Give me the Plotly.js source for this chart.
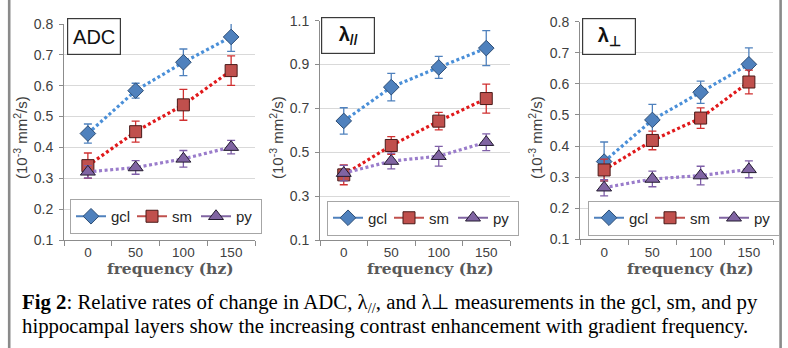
<!DOCTYPE html>
<html><head><meta charset="utf-8">
<script src="https://cdn.plot.ly/plotly-3.0.1.min.js"></script>
<style>html,body{margin:0;padding:0;background:#fff}#chart{width:788px;height:348px}</style>
</head><body><div id="chart"></div>
<script>
// ---- data ----
const frequencies = ['0', '50', '100', '150'];
const seriesNames = ['gcl', 'sm', 'py'];

const adcGcl = [0.445, 0.584, 0.676, 0.758];
const adcGclErr = [0.031, 0.024, 0.043, 0.047];
const adcSm = [0.341, 0.451, 0.538, 0.649];
const adcSmErr = [0.041, 0.034, 0.050, 0.048];
const adcPy = [0.321, 0.335, 0.363, 0.401];
const adcPyErr = [0.020, 0.022, 0.027, 0.022];

const parGcl = [0.643, 0.797, 0.887, 0.975];
const parGclErr = [0.060, 0.063, 0.050, 0.080];
const parSm = [0.397, 0.531, 0.642, 0.745];
const parSmErr = [0.045, 0.040, 0.040, 0.066];
const parPy = [0.405, 0.460, 0.482, 0.546];
const parPyErr = [0.035, 0.036, 0.045, 0.038];

const perpGcl = [0.350, 0.484, 0.573, 0.663];
const perpGclErr = [0.063, 0.050, 0.036, 0.053];
const perpSm = [0.323, 0.418, 0.490, 0.606];
const perpSmErr = [0.035, 0.030, 0.033, 0.038];
const perpPy = [0.266, 0.294, 0.305, 0.325];
const perpPyErr = [0.026, 0.025, 0.030, 0.027];

const panelLabels = ['ADC', '<b>λ<sub>//</sub></b>', '<b>λ<sub>⊥</sub></b>'];
const yTickValues = [[0.1,0.2,0.3,0.4,0.5,0.6,0.7,0.8],[0.1,0.3,0.5,0.7,0.9,1.1],[0.1,0.2,0.3,0.4,0.5,0.6,0.7,0.8]];
const yTitle = '(10<sup>-3</sup> mm<sup>2</sup>/s)';
const xTitle = 'frequency (hz)';

// ---- styling ----
const W = 788, H = 348;
const panels = [
  {vals:[adcGcl,adcSm,adcPy], errs:[adcGclErr,adcSmErr,adcPyErr], x0:64, x1:255, yTop:24, yBot:240, range:[0.1,0.8], lb:[70,216.5], boxX:94, boxY:36.5, ytX:20, xtX:170},
  {vals:[parGcl,parSm,parPy], errs:[parGclErr,parSmErr,parPyErr], x0:320, x1:510, yTop:20.7, yBot:240, range:[0.1,1.1], lb:[327,218], boxX:347.5, boxY:35.5, ytX:276, xtX:430},
  {vals:[perpGcl,perpSm,perpPy], errs:[perpGclErr,perpSmErr,perpPyErr], x0:580, x1:773, yTop:21.7, yBot:239.3, range:[0.1,0.8], lb:[588,218], boxX:609, boxY:36.5, ytX:535, xtX:690}
];
const styles = [
  {symbol:'diamond', size:12, fill:'#4f81bd', edge:'#2c4d75', line:'#4a8fd8', err:'#4f81bd', leg:'#4f81bd', lw:16},
  {symbol:'square', size:12, fill:'#c0504d', edge:'#4a1a19', line:'#e0191b', err:'#d03030', leg:'#c0504d', lw:19},
  {symbol:'triangle-up', size:13, fill:'#8064a2', edge:'#231b30', line:'#9a7ccb', err:'#7f5fa8', leg:'#8064a2', lw:20}
];
const tickFont = {family:'Liberation Sans, Arial, sans-serif', size:14, color:'#404040'};
const axisGray = '#8c8c8c';

const traces = [];
const layout = {
  width:W, height:H, margin:{l:0,r:0,t:0,b:0},
  paper_bgcolor:'#ffffff', plot_bgcolor:'#ffffff',
  showlegend:true, annotations:[], shapes:[]
};

panels.forEach((p, i) => {
  const n = i === 0 ? '' : String(i+1);
  const xa = 'x'+n, ya = 'y'+n;
  const legName = 'legend'+n;
  layout['xaxis'+n] = {
    type:'category', domain:[p.x0/W, p.x1/W], anchor:ya, range:[-0.5,3.5],
    showline:true, linecolor:axisGray, linewidth:1, ticks:'outside', tickson:'boundaries',
    ticklen:5, tickcolor:axisGray, showgrid:false, fixedrange:true,
    tickfont:{family:tickFont.family, size:13.5, color:tickFont.color}
  };
  layout['yaxis'+n] = {
    domain:[(H-p.yBot)/H, (H-p.yTop)/H], anchor:xa, range:p.range,
    tickmode:'array', tickvals:yTickValues[i], tickformat:'.1f',
    showline:true, linecolor:axisGray, linewidth:1, ticks:'outside', ticklen:4, tickcolor:axisGray,
    ticklabelstandoff:3,
    gridcolor:'#d9d9d9', gridwidth:1, zeroline:false, tickfont:tickFont, fixedrange:true
  };
  layout[legName] = {
    orientation:'h', x:p.lb[0]/W, y:(H-p.lb[1])/H, xanchor:'left', yanchor:'middle',
    bgcolor:'#ffffff', bordercolor:'#a6a6a6', borderwidth:1,
    font:{family:'Liberation Sans, Arial, sans-serif', size:15, color:'#262626'},
    itemwidth:30, tracegroupgap:0
  };
  seriesNames.forEach((s, k) => {
    const st = styles[k];
    traces.push({
      type:'scatter', mode:'lines+markers', name:s, x:frequencies, y:p.vals[k],
      xaxis:xa, yaxis:ya, showlegend:false, legend:legName,
      line:{color:st.line, width:3.2, dash:'3px,2.6px'},
      marker:{symbol:st.symbol, size:st.size, color:st.fill, line:{color:st.edge, width:1}},
      error_y:{type:'data', array:p.errs[k], visible:true, color:st.err, thickness:1.3, width:4},
      hoverinfo:'skip'
    });
  });
  seriesNames.forEach((s, k) => {
    const st = styles[k];
    traces.push({
      type:'scatter', mode:'lines+markers', name:s, x:[null], y:[null],
      xaxis:xa, yaxis:ya, showlegend:true, legend:legName, legendwidth:st.lw,
      line:{color:st.leg, width:2},
      marker:{symbol:st.symbol, size:st.size, color:st.fill, line:{color:st.edge, width:1}},
      hoverinfo:'skip'
    });
  });
  layout.annotations.push({
    xref:'paper', yref:'paper', x:p.boxX/W, y:(H-p.boxY)/H, xanchor:'center', yanchor:'middle',
    text:panelLabels[i], showarrow:false, width:50, height:33, borderpad:1,
    bordercolor:'#3a3a3a', borderwidth:1.2, bgcolor:'#ffffff',
    font:{family:'Liberation Sans, Arial, sans-serif', size:20, color:'#111111'}
  });
  layout.annotations.push({
    xref:'paper', yref:'paper', x:p.ytX/W, y:(H-138)/H, xanchor:'center', yanchor:'middle',
    text:yTitle, textangle:-90, showarrow:false,
    font:{family:'Liberation Sans, Arial, sans-serif', size:15, color:'#404040'}
  });
  layout.annotations.push({
    xref:'paper', yref:'paper', x:p.xtX/W, y:(H-268)/H, xanchor:'center', yanchor:'middle',
    text:'<b>'+xTitle+'</b>', showarrow:false,
    font:{family:'DejaVu Serif, serif', size:15.5, color:'#595959'}
  });
});

// caption
const captionLines = [
  '<b>Fig 2</b>: Relative rates of change in ADC, λ<sub>//</sub>, and λ⊥ measurements in the gcl, sm, and py',
  'hippocampal layers show the increasing contrast enhancement with gradient frequency.'
];
const captionY = [303, 326];
captionLines.forEach((t, j) => {
  layout.annotations.push({
    xref:'paper', yref:'paper', x:20/W, y:(H-captionY[j])/H, xanchor:'left', yanchor:'middle',
    text:t, showarrow:false, align:'left',
    font:{family:'Liberation Serif, Times New Roman, serif', size:20.8, color:'#000000'}
  });
});

// page frame bars
[9.2, 780.6].forEach(xp => {
  layout.shapes.push({type:'line', xref:'paper', yref:'paper', x0:xp/W, x1:xp/W, y0:0, y1:1,
    line:{color:'#8a8a8a', width:2.6}});
});

Plotly.newPlot('chart', traces, layout, {staticPlot:true, displayModeBar:false});
</script>
</body></html>
